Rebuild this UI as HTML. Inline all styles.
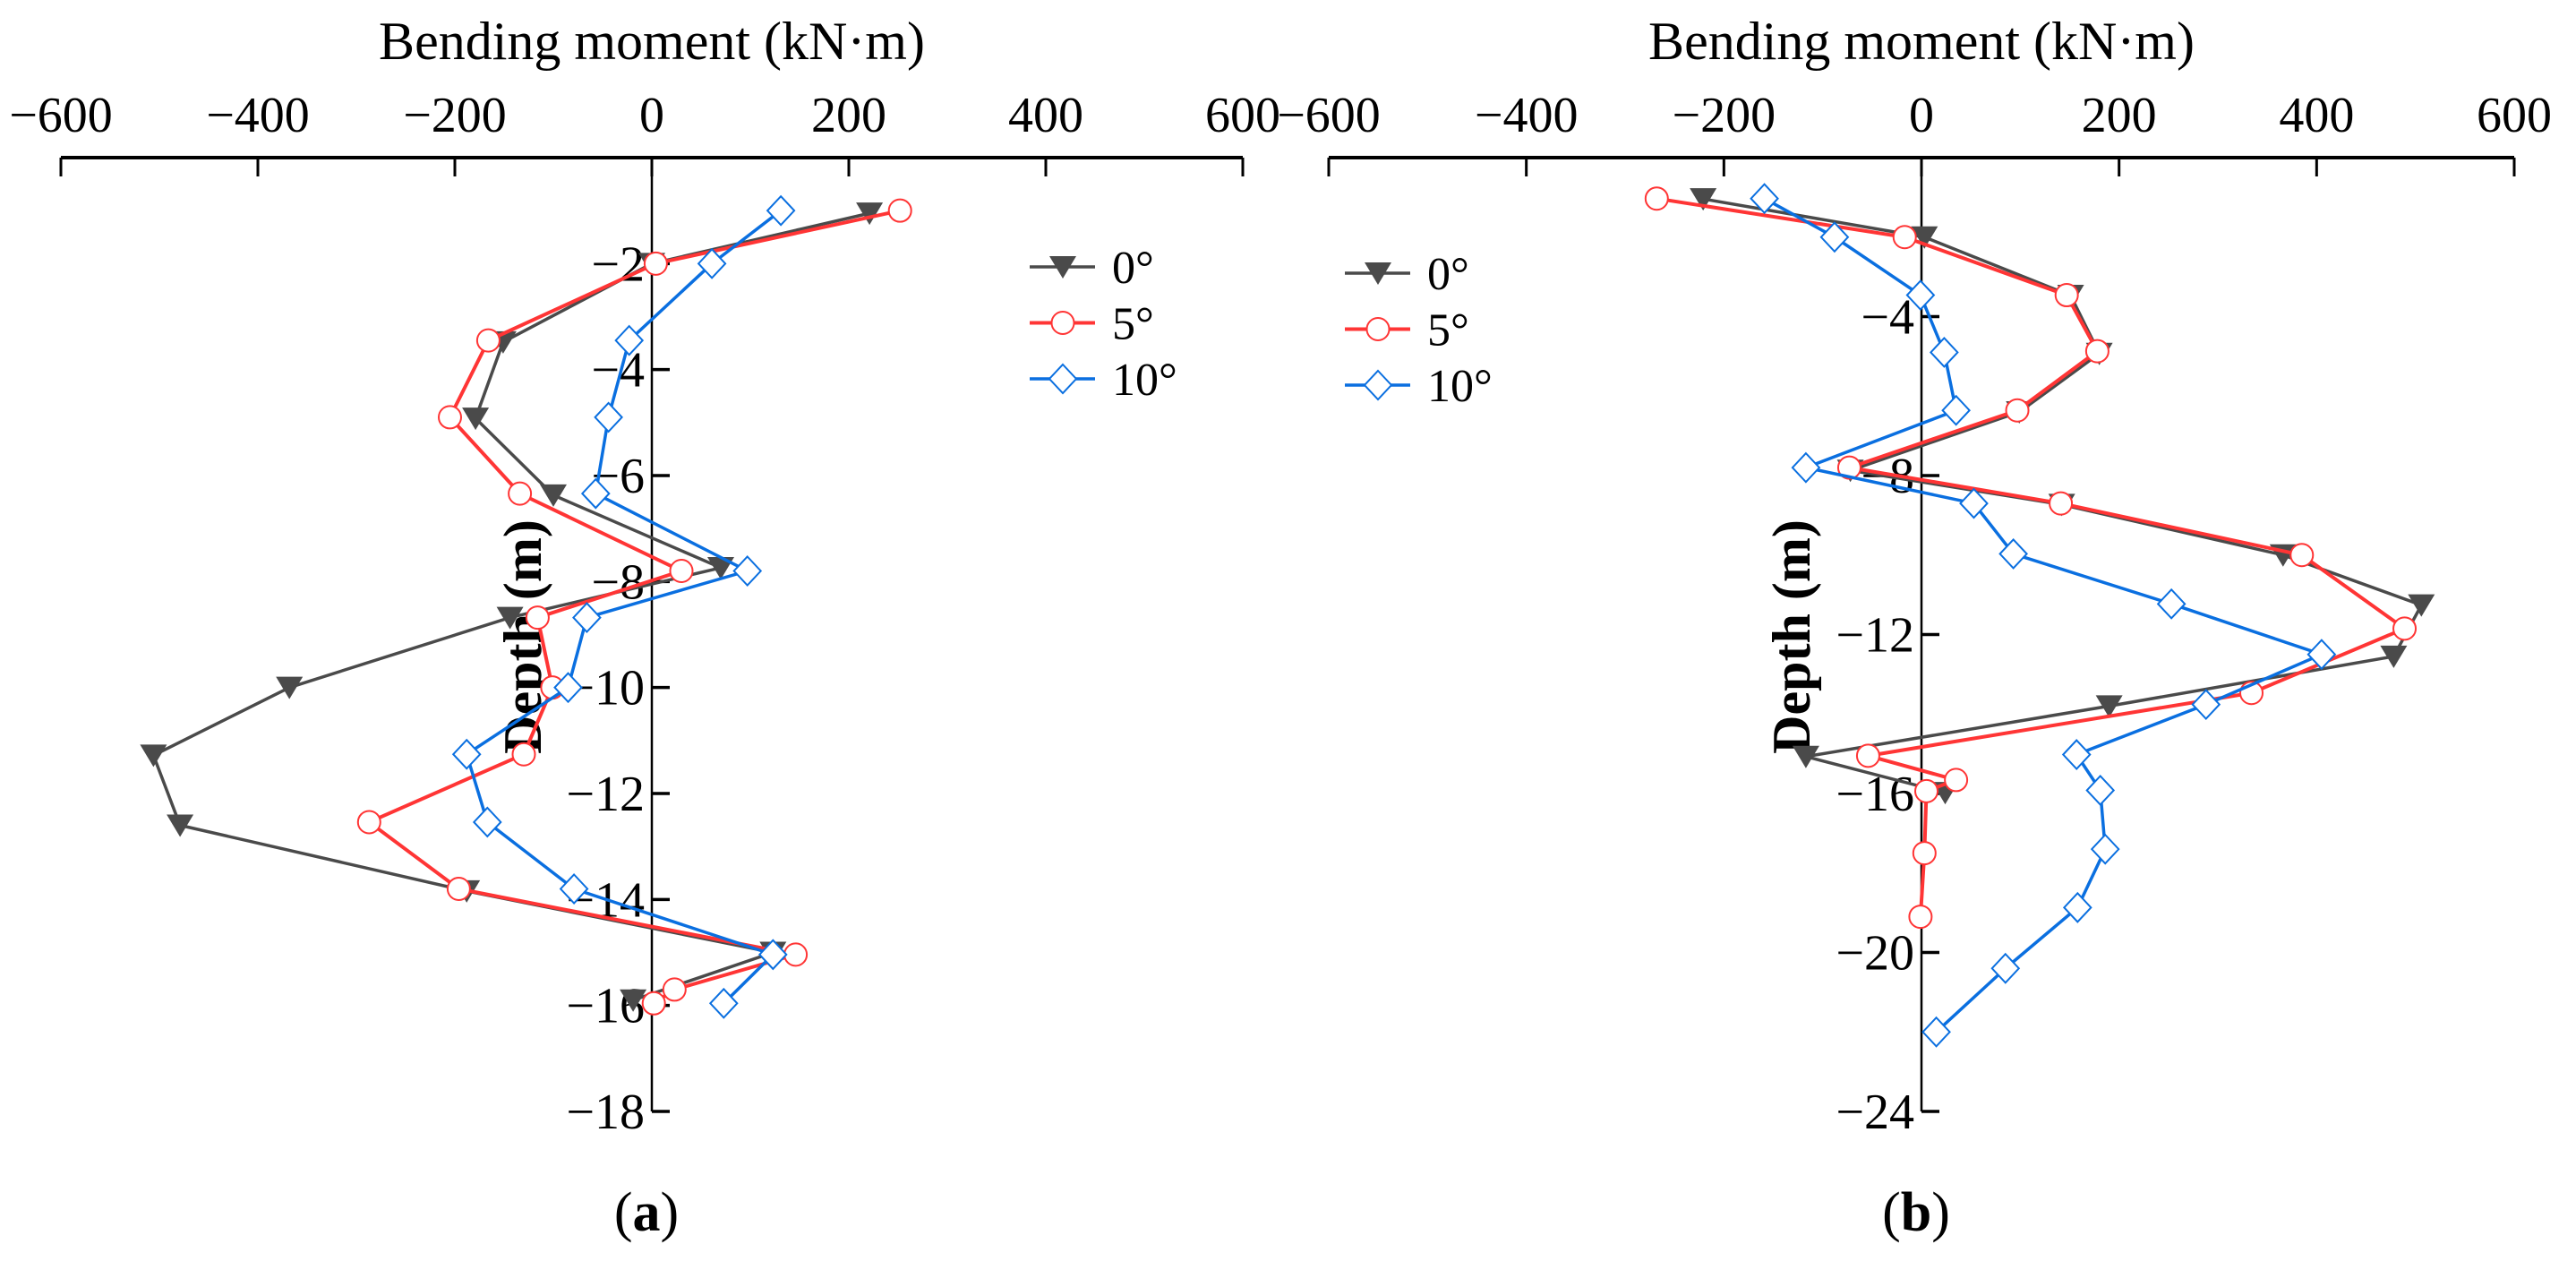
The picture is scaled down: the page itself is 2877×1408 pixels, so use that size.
<!DOCTYPE html>
<html><head><meta charset="utf-8">
<style>
html,body{margin:0;padding:0;background:#fff;}
svg{display:block;}
text{font-family:"Liberation Serif",serif;fill:#000;}
</style></head>
<body>
<svg id="chart" width="2877" height="1408" viewBox="0 0 2877 1408" xmlns="http://www.w3.org/2000/svg" font-family="Liberation Serif, serif"></svg>
<script>
// ---------- data ----------
const xTicks = [-600,-400,-200,0,200,400,600];
const yTicksA = [-2,-4,-6,-8,-10,-12,-14,-16,-18];
const yTicksB = [-4,-8,-12,-16,-20,-24];
const seriesNames = ['0°','5°','10°'];

const a0Depth = [-1.05,-2.0,-3.48,-4.92,-6.37,-7.74,-8.68,-10.0,-11.28,-12.6,-13.84,-15.0,-15.9];
const a0Moment = [221,0,-151,-179,-100,70,-144,-368,-506,-479,-188,123,-19];
const a5Depth = [-1.0,-2.0,-3.45,-4.9,-6.34,-7.8,-8.68,-10.0,-11.26,-12.54,-13.8,-15.04,-15.7,-15.96];
const a5Moment = [252,4,-166,-205,-134,30,-116,-101,-130,-287,-196,146,23,2];
const a10Depth = [-1.0,-2.0,-3.45,-4.9,-6.34,-7.8,-8.68,-10.0,-11.26,-12.54,-13.8,-15.04,-15.96];
const a10Moment = [131,61,-23,-44,-57,97,-66,-85,-188,-167,-79,123,73];

const b0Depth = [-1.04,-2.0,-3.47,-4.93,-6.4,-7.87,-8.73,-10.0,-11.26,-12.55,-13.8,-15.07,-15.98];
const b0Moment = [-221,3,151,180,99,-72,142,366,506,478,190,-117,24];
const b5Depth = [-1.03,-2.0,-3.46,-4.87,-6.36,-7.8,-8.7,-10.0,-11.85,-13.47,-15.05,-15.66,-15.94,-17.5,-19.1];
const b5Moment = [-268,-17,147,178,97,-73,141,385,489,334,-54,35,5,3,-1];
const b10Depth = [-1.03,-2.0,-3.46,-4.9,-6.36,-7.8,-8.7,-9.97,-11.23,-12.5,-13.76,-15.02,-15.92,-17.4,-18.87,-20.4,-22.0];
const b10Moment = [-159,-88,-1,23,35,-117,53,93,253,405,288,157,181,186,158,85,15];

const NS='http://www.w3.org/2000/svg';
const svg=document.getElementById('chart');
const FF='"Liberation Serif", serif';
function mk(tag,attrs,parent){const e=document.createElementNS(NS,tag);for(const k in attrs)e.setAttribute(k,attrs[k]);if(tag==='text')e.style.fontFamily=FF;(parent||svg).appendChild(e);return e;}

const colors=['#4a4a4a','#ff3535','#0a6fe0'];
const widths=[3.5,4,3.5];

function marker(g,type,x,y,idx){
  let m;
  if(type===0){
    m=mk('polygon',{points:`${x-15},${y-12} ${x+15},${y-12} ${x},${y+13}`,fill:colors[0]},g);
  }else if(type===1){
    m=mk('circle',{cx:x,cy:y,r:12.5,fill:'#fff',stroke:colors[1],'stroke-width':2},g);
  }else{
    m=mk('polygon',{points:`${x},${y-16} ${x+15},${y} ${x},${y+16} ${x-15},${y}`,fill:'#fff',stroke:colors[2],'stroke-width':2},g);
  }
  
  
}

function panel(cfg){
  const {id,x0,x600,axisY,yBottom,dMax,yTicks,series,legend,label,depthX}=cfg;
  const g=mk('g',{});
  
  
  const xm=x0-(x600-x0);
  const sx=v=>x0+v*(x600-x0)/600;
  const sy=d=>axisY+(-d)*(yBottom-axisY)/dMax;
  const t=mk('text',{x:(xm+x600)/2,y:66,'font-size':60,'text-anchor':'middle'},g);
  t.textContent='Bending moment (kN·m)';
  
  
  const xa=mk('line',{x1:xm,y1:axisY,x2:x600,y2:axisY,stroke:'#000','stroke-width':4},g);
  
  
  xTicks.forEach(v=>{
    const tk=mk('line',{x1:sx(v),y1:axisY,x2:sx(v),y2:axisY+21,stroke:'#000','stroke-width':3},g);
    
    
    const tl=mk('text',{x:sx(v),y:147,'font-size':56,'text-anchor':'middle'},g);
    tl.textContent=(v<0?'−':'')+Math.abs(v);
    
    
  });
  const ya=mk('line',{x1:x0,y1:axisY,x2:x0,y2:yBottom,stroke:'#000','stroke-width':2.5},g);
  
  
  yTicks.forEach(d=>{
    const tk=mk('line',{x1:x0,y1:sy(d),x2:x0+20,y2:sy(d),stroke:'#000','stroke-width':3.5},g);
    
    
    const tl=mk('text',{x:x0-8,y:sy(d)+19,'font-size':56,'text-anchor':'end'},g);
    tl.textContent='−'+Math.abs(d);
    
    
  });
  const yl=mk('text',{x:depthX,y:711,'font-size':60,'text-anchor':'middle','font-weight':'bold',transform:`rotate(-90 ${depthX} 711)`},g);
  yl.textContent='Depth (m)';
  
  
  series.forEach((s,i)=>{
    const sg=mk('g',{},g);
    
    
    const pts=s.d.map((d,k)=>sx(s.m[k])+','+sy(d)).join(' ');
    const pl=mk('polyline',{points:pts,fill:'none',stroke:colors[i],'stroke-width':widths[i],'stroke-linejoin':'round'},sg);
    
    
    s.d.forEach((d,k)=>marker(sg,i,sx(s.m[k]),sy(d),k));
  });
  const lg=mk('g',{},g);
  
  
  seriesNames.forEach((n,i)=>{
    const ly=legend.y+i*62.5;
    const le=mk('g',{},lg);
    
    
    mk('line',{x1:legend.x,y1:ly,x2:legend.x+73,y2:ly,stroke:colors[i],'stroke-width':widths[i]},le);
    marker(le,i,legend.x+37,ly,'legend');
    const lt=mk('text',{x:legend.x+92,y:ly+18,'font-size':52},le);
    lt.textContent=n;
  });
  const pl=mk('text',{x:label.x,y:1374,'font-size':62,'text-anchor':'middle'},g);
  pl.innerHTML='(<tspan font-weight="bold">'+id+'</tspan>)';
  
  
}

panel({id:'a',x0:728,x600:1388,axisY:176,yBottom:1241,dMax:18,yTicks:yTicksA,depthX:604,
  series:[{d:a0Depth,m:a0Moment},{d:a5Depth,m:a5Moment},{d:a10Depth,m:a10Moment}],
  legend:{x:1150,y:298},label:{x:722}});
panel({id:'b',x0:2146,x600:2808,axisY:176,yBottom:1241,dMax:24,yTicks:yTicksB,depthX:2021,
  series:[{d:b0Depth,m:b0Moment},{d:b5Depth,m:b5Moment},{d:b10Depth,m:b10Moment}],
  legend:{x:1502,y:305},label:{x:2140}});
</script>
</body></html>
